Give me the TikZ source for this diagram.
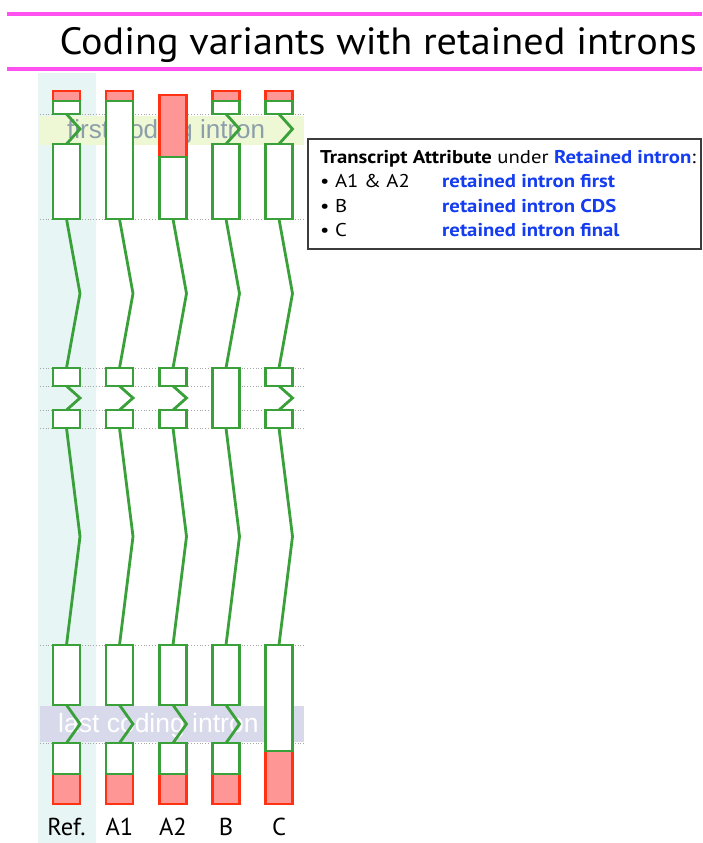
\documentclass[tikz,border=0pt]{standalone}
\usepackage{fontspec}
\usepackage{graphicx}
\setmainfont{PT Sans}
\newfontfamily\bandfont{Liberation Sans}
\usetikzlibrary{calc}
\definecolor{magline}{RGB}{255,80,240}
\definecolor{exgreen}{RGB}{58,160,58}
\definecolor{utrred}{RGB}{255,50,20}
\definecolor{utrfill}{RGB}{255,150,150}
\definecolor{colcyan}{RGB}{232,245,245}
\definecolor{bandgreen}{RGB}{238,248,212}
\definecolor{bandlav}{RGB}{216,218,236}
\definecolor{bandtext}{RGB}{140,158,170}
\definecolor{attrblue}{RGB}{20,60,240}
\definecolor{frame}{RGB}{60,60,60}
\newcommand{\wide}[1]{\scalebox{1.12}[1]{#1}}
\tikzset{
  exon/.style={draw=exgreen, line width=2.8pt, fill=white, minimum width=27pt, inner sep=0pt, outer sep=0pt, anchor=north},
  utr/.style={draw=utrred, line width=2.8pt, fill=utrfill, minimum width=27pt, inner sep=0pt, outer sep=0pt, anchor=north},
  intron/.style={draw=exgreen, line width=2.8pt, line join=miter},
  guide/.style={draw=gray!70, dotted, line width=0.8pt},
  collabel/.style={font=\fontsize{24.5}{28}\selectfont, anchor=base, inner sep=0pt},
  boxtext/.style={font=\fontsize{18.5}{22}\selectfont, anchor=base west, inner sep=0pt},
  bluetext/.style={boxtext, text=attrblue, font=\fontsize{18.5}{22}\selectfont\bfseries}
}
\newcommand{\intronlink}[2]{\draw[intron] (#1.south) -- ($(#1.south)!.5!(#2.north)+(13.5,0)$) -- (#2.north);}
\begin{document}
\begin{tikzpicture}[x=1pt,y=-1pt]
\useasboundingbox (0,0) rectangle (702,843);
% title
\fill[magline] (7,12.5) rectangle (702,16.5);
\fill[magline] (7,67.5) rectangle (702,71.5);
\node[anchor=base east, inner sep=0pt, font=\fontsize{38}{44}\selectfont] (title) at (697,54.5) {\scalebox{1.058}[1]{Coding variants with retained introns}};
% reference column
\fill[colcyan] (38,73) rectangle (96,843);
% guide lines
\foreach \yy in {114.5,144.5,219,368,386,410,428,645,743}{
  \draw[guide] (40,\yy) -- (305,\yy);
}
% bands
\fill[bandgreen] (40,116) rectangle (304,145);
\node[anchor=base west, inner sep=0pt, text=bandtext, font=\bandfont\fontsize{26}{30}\selectfont] (firstlbl) at (67,138) {first coding intron};
\fill[bandlav] (40,706) rectangle (304,742);
\node[anchor=base west, inner sep=0pt, text=white, font=\bandfont\fontsize{26.5}{30}\selectfont] (lastlbl) at (58,732) {last coding intron};
% ---- Ref ----
\node[utr, minimum height=10pt] (r0) at (66.5,91) {};
\node[exon, minimum height=13pt] (r1) at (66.5,101) {};
\node[exon, minimum height=75pt] (r2) at (66.5,144) {};
\node[exon, minimum height=18pt] (r3) at (66.5,368) {};
\node[exon, minimum height=18pt] (r4) at (66.5,410) {};
\node[exon, minimum height=60pt] (r5) at (66.5,645) {};
\node[utr, minimum height=30pt] (r7) at (66.5,774) {};
\node[exon, minimum height=31pt] (r6) at (66.5,743) {};
\intronlink{r1}{r2}\intronlink{r2}{r3}\intronlink{r3}{r4}\intronlink{r4}{r5}\intronlink{r5}{r6}
% ---- A1 ----
\node[utr, minimum height=10pt] (a0) at (119.5,91) {};
\node[exon, minimum height=118pt] (a1) at (119.5,101) {};
\node[exon, minimum height=18pt] (a3) at (119.5,368) {};
\node[exon, minimum height=18pt] (a4) at (119.5,410) {};
\node[exon, minimum height=60pt] (a5) at (119.5,645) {};
\node[utr, minimum height=30pt] (a7) at (119.5,774) {};
\node[exon, minimum height=31pt] (a6) at (119.5,743) {};
\intronlink{a1}{a3}\intronlink{a3}{a4}\intronlink{a4}{a5}\intronlink{a5}{a6}
% ---- A2 ----
\node[utr, minimum height=62pt] (b0) at (173,95) {};
\node[exon, minimum height=62pt] (b1) at (173,157) {};
\node[exon, minimum height=18pt] (b3) at (173,368) {};
\node[exon, minimum height=18pt] (b4) at (173,410) {};
\node[exon, minimum height=60pt] (b5) at (173,645) {};
\node[utr, minimum height=30pt] (b7) at (173,774) {};
\node[exon, minimum height=31pt] (b6) at (173,743) {};
\intronlink{b1}{b3}\intronlink{b3}{b4}\intronlink{b4}{b5}\intronlink{b5}{b6}
% ---- B ----
\node[utr, minimum height=10pt] (c0) at (226,91) {};
\node[exon, minimum height=13pt] (c1) at (226,101) {};
\node[exon, minimum height=75pt] (c2) at (226,144) {};
\node[exon, minimum height=60pt] (c3) at (226,368) {};
\node[exon, minimum height=60pt] (c5) at (226,645) {};
\node[utr, minimum height=30pt] (c7) at (226,774) {};
\node[exon, minimum height=31pt] (c6) at (226,743) {};
\intronlink{c1}{c2}\intronlink{c2}{c3}\intronlink{c3}{c5}\intronlink{c5}{c6}
% ---- C ----
\node[utr, minimum height=10pt] (d0) at (279,91) {};
\node[exon, minimum height=13pt] (d1) at (279,101) {};
\node[exon, minimum height=75pt] (d2) at (279,144) {};
\node[exon, minimum height=18pt] (d3) at (279,368) {};
\node[exon, minimum height=18pt] (d4) at (279,410) {};
\node[utr, minimum height=53pt] (d7) at (279,751) {};
\node[exon, minimum height=106pt] (d5) at (279,645) {};
\intronlink{d1}{d2}\intronlink{d2}{d3}\intronlink{d3}{d4}\intronlink{d4}{d5}
% labels
\node[collabel] (lref) at (66.5,835) {Ref.};
\node[collabel] (la1) at (119.5,835) {A1};
\node[collabel] (la2) at (173,835) {A2};
\node[collabel] (lb) at (226,835) {B};
\node[collabel] (lc) at (279,835) {C};
% attribute box
\draw[frame, line width=1.6pt, fill=white] (308,139) rectangle (701,249);
\node[boxtext] (hdr) at (320,163) {\wide{\textbf{Transcript Attribute} under \textcolor{attrblue}{\textbf{Retained intron}}:}};
\node[boxtext] (i1) at (320,187.5) {\wide{• A1 \& A2}};
\node[bluetext] (v1) at (442,187.5) {\wide{retained intron first}};
\node[boxtext] (i2) at (320,212) {\wide{• B}};
\node[bluetext] (v2) at (442,212) {\wide{retained intron CDS}};
\node[boxtext] (i3) at (320,236) {\wide{• C}};
\node[bluetext] (v3) at (442,236) {\wide{retained intron final}};
\end{tikzpicture}
\end{document}
